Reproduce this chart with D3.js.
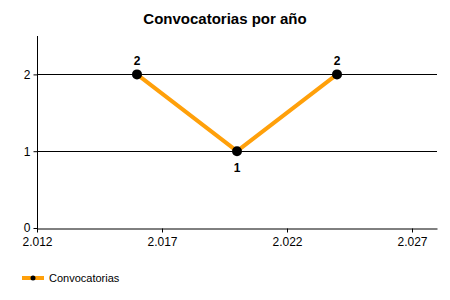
<!DOCTYPE html>
<html>
<head>
<meta charset="utf-8">
<script src="https://cdn.jsdelivr.net/npm/d3@7/dist/d3.min.js"></script>
<style>
  body { margin: 0; background: #fff; }
  svg text { font-family: "Liberation Sans", Arial, sans-serif; }
</style>
</head>
<body>
<div id="master"></div>
<script>
// data
let years = [2016, 2020, 2024]
let counts = [2, 1, 2]
let xTicks = [2012, 2017, 2022, 2027]
let yTicks = [0, 1, 2]
let seriesName = "Convocatorias"
let title = "Convocatorias por año"

let w = 450, h = 300
let margin = { left: 37, right: 13, top: 36, bottom: 72 }

let svg = d3.select("#master").append("svg").attr("width", w).attr("height", h)

let xScale = d3.scaleLinear().domain([2012, 2028]).range([margin.left, w - margin.right])
let yScale = d3.scaleLinear().domain([0, 2.5]).range([h - margin.bottom, margin.top])

let fmt = d => d3.format(",")(d).replace(",", ".")

// title
svg.append("text").attr("x", 225).attr("y", 24).attr("text-anchor", "middle")
  .style("font-size", "15px").style("font-weight", "bold").text(title)

// gridlines
svg.append("g").selectAll("line").data(yTicks.filter(d => d > 0)).enter().append("line")
  .attr("x1", xScale(2012)).attr("x2", xScale(2028))
  .attr("y1", d => Math.round(yScale(d)) + 0.5).attr("y2", d => Math.round(yScale(d)) + 0.5)
  .attr("stroke", "#000")

// x axis
let xAxis = d3.axisBottom(xScale).tickValues(xTicks).tickFormat(fmt).tickSize(4).tickSizeOuter(0)
let gx = svg.append("g").attr("transform", "translate(0," + (Math.round(yScale(0)) + 0.5) + ")").call(xAxis)
gx.selectAll("text").style("font-size", "12px").attr("fill", "#000").attr("dy", "0.9em")

// y axis
let yAxis = d3.axisLeft(yScale).tickValues(yTicks).tickFormat(d3.format("d")).tickSize(4).tickSizeOuter(0)
let gy = svg.append("g").attr("transform", "translate(" + (Math.round(xScale(2012)) + 0.5) + ",0)").call(yAxis)
gy.selectAll("text").style("font-size", "12px").attr("fill", "#000")
gy.select(".domain").attr("d", "M0," + margin.top + "V" + (h - margin.bottom + 4))
gx.selectAll("path, line").attr("stroke", "#000")
gy.selectAll("path, line").attr("stroke", "#000")

// series
let pts = years.map((y, i) => ({ year: y, count: counts[i] }))
let line = d3.line().x(d => xScale(d.year)).y(d => yScale(d.count))
svg.append("path").datum(pts).attr("d", line).attr("fill", "none")
  .attr("stroke", "#FFA00A").attr("stroke-width", 4).attr("stroke-linejoin", "round")

svg.selectAll("circle.pt").data(pts).enter().append("circle").attr("class", "pt")
  .attr("cx", d => xScale(d.year)).attr("cy", d => yScale(d.count)).attr("r", 5).attr("fill", "#000")

svg.selectAll("text.lbl").data(pts).enter().append("text").attr("class", "lbl")
  .attr("x", d => xScale(d.year))
  .attr("y", (d, i) => (i > 0 && i < pts.length - 1 && d.count < pts[i - 1].count) ? yScale(d.count) + 21 : yScale(d.count) - 9)
  .attr("text-anchor", "middle").style("font-size", "12px").style("font-weight", "bold").text(d => d.count)

// legend
let lg = svg.append("g").attr("transform", "translate(22,278)")
lg.append("line").attr("x1", 0).attr("x2", 22).attr("stroke", "#FFA00A").attr("stroke-width", 4)
lg.append("circle").attr("cx", 11).attr("cy", 0).attr("r", 2.5).attr("fill", "#000")
lg.append("text").attr("x", 27).attr("y", 4).style("font-size", "11px").text(seriesName)
</script>
</body>
</html>
